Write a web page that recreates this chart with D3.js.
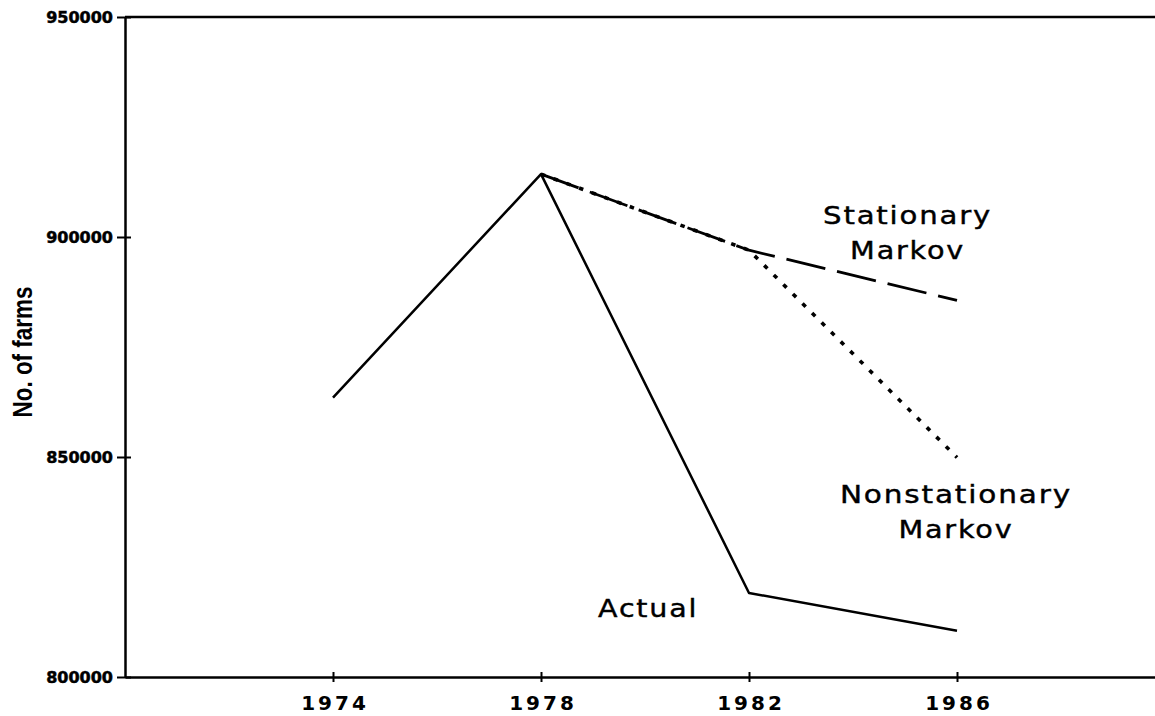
<!DOCTYPE html>
<html>
<head>
<meta charset="utf-8">
<script src="https://cdn.jsdelivr.net/npm/d3@7"></script>
<style>
  body { margin: 0; background: #fff; }
  svg { display: block; }
</style>
</head>
<body>
<div id="chart"></div>
<script>
var width = 1155,
  height = 716;

// data
var years = [1974, 1978, 1982, 1986];
var actual = [863500, 914300, 819100, 810500];
var stationary = [null, 914300, 897000, 885600];
var nonstationary = [null, 914300, 897000, 849900];
var yTicks = [800000, 850000, 900000, 950000];

// labels placed at (year, value), one text per line
var labels = [
  { text: "Stationary", year: 1985.05, value: 902900, len: 169 },
  { text: "Markov", year: 1985.05, value: 894950, len: 115 },
  { text: "Nonstationary", year: 1985.98, value: 839600, len: 232 },
  { text: "Markov", year: 1985.98, value: 831650, len: 115 },
  { text: "Actual", year: 1980.06, value: 813650, len: 100 }
];

var x = d3.scaleLinear().domain([1970, 1990]).range([125, 1165]);
var y = d3.scaleLinear().domain([800000, 950000]).range([677, 17]);

var svg = d3.select("#chart").append("svg")
  .attr("width", width)
  .attr("height", height);

// top border
svg.append("line")
  .attr("x1", x(1970)).attr("x2", x(1990))
  .attr("y1", y(950000)).attr("y2", y(950000))
  .attr("stroke", "#000")
  .attr("stroke-width", 2.5);

var yAxis = svg.append("g")
  .attr("transform", "translate(" + x(1970) + ",0)")
  .call(d3.axisLeft(y).tickValues(yTicks).tickSize(8).tickSizeOuter(0).tickFormat(d3.format("d")).tickPadding(4));
yAxis.select(".domain").attr("stroke-width", 2.5);
yAxis.selectAll(".tick line").attr("x1", 6).attr("stroke-width", 2);
yAxis.selectAll(".tick text")
  .attr("font-family", "DejaVu Sans, sans-serif")
  .attr("font-weight", "bold")
  .attr("font-size", 16)
  .attr("stroke", "#000")
  .attr("stroke-width", 0.5)
  .attr("fill", "#000");

var xAxis = svg.append("g")
  .attr("transform", "translate(0," + y(800000) + ")")
  .call(d3.axisBottom(x).tickValues(years).tickSize(5).tickSizeOuter(0).tickFormat(d3.format("d")));
xAxis.select(".domain").attr("stroke-width", 2.5);
xAxis.selectAll(".tick line").attr("y1", -5).attr("stroke-width", 2);
xAxis.selectAll(".tick text")
  .attr("y", 33)
  .attr("dy", 0)
  .attr("dx", 1.5)
  .attr("font-family", "DejaVu Sans, sans-serif")
  .attr("font-weight", "bold")
  .attr("font-size", 20)
  .attr("letter-spacing", "3px")
  .attr("fill", "#000");

svg.append("text")
  .attr("transform", "translate(32,352) rotate(-90)")
  .attr("text-anchor", "middle")
  .attr("font-family", "Liberation Sans Narrow, Liberation Sans, Arial, sans-serif")
  .attr("font-weight", "bold")
  .attr("font-size", 28)
  .attr("textLength", 131)
  .attr("lengthAdjust", "spacingAndGlyphs")
  .text("No. of farms");

var line = d3.line()
  .defined(function(d) { return d[1] != null; })
  .x(function(d) { return x(d[0]); })
  .y(function(d) { return y(d[1]); });

function pairs(values) {
  return years.map(function(yr, i) { return [yr, values[i]]; });
}

var series = [
  { values: stationary, dash: "40,12", w: 2.8 },
  { values: nonstationary, dash: "4.5,9", w: 3.6 },
  { values: actual, dash: null, w: 2.5 }
];

series.forEach(function(s) {
  svg.append("path")
    .datum(pairs(s.values))
    .attr("fill", "none")
    .attr("stroke", "#000")
    .attr("stroke-width", s.w)
    .attr("stroke-linejoin", "round")
    .attr("stroke-dasharray", s.dash)
    .attr("d", line);
});

svg.selectAll(".label")
  .data(labels)
  .enter().append("text")
    .attr("class", "label")
    .attr("x", function(d) { return x(d.year); })
    .attr("y", function(d) { return y(d.value); })
    .attr("text-anchor", "middle")
    .attr("font-family", "DejaVu Sans, sans-serif")
    .attr("font-size", 24)
    .attr("letter-spacing", "1.5px")
    .attr("textLength", function(d) { return d.len; })
    .attr("lengthAdjust", "spacingAndGlyphs")
    .attr("stroke", "#000")
    .attr("stroke-width", 0.4)
    .text(function(d) { return d.text; });
</script>
</body>
</html>
